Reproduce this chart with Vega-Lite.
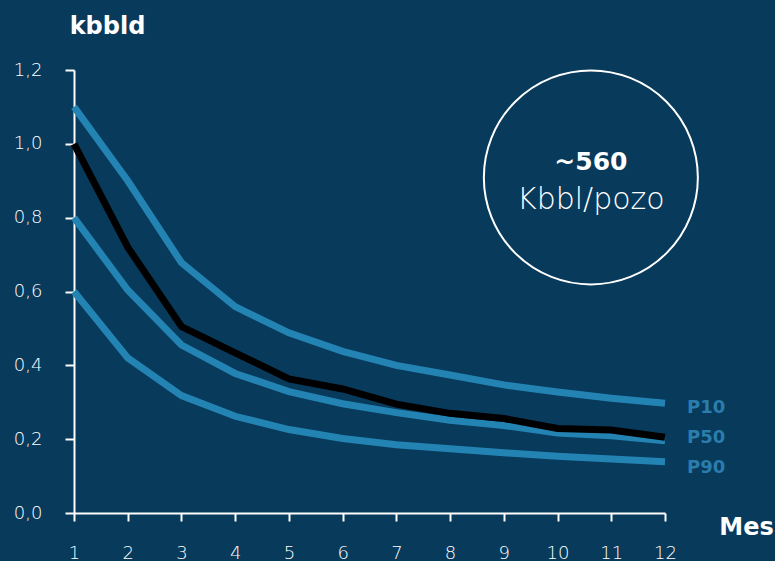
{
  "$schema": "https://vega.github.io/schema/vega-lite/v6.json",
  "width": 591,
  "height": 443,
  "autosize": "none",
  "padding": {"left": 74, "top": 70, "right": 110, "bottom": 48},
  "background": "#083A5C",
  "config": {
    "view": {"stroke": null},
    "font": "DejaVu Sans",
    "axis": {
      "domainColor": "#FFFFFF",
      "domainWidth": 2,
      "tickColor": "#FFFFFF",
      "tickWidth": 2,
      "labelColor": "#FFFFFF",
      "labelFont": "DejaVu Sans",
      "labelFontWeight": 200,
      "labelFontSize": 18,
      "grid": false,
      "titleColor": "#FFFFFF",
      "titleFont": "DejaVu Sans",
      "titleFontWeight": "bold",
      "titleFontSize": 24
    }
  },
  "datasets": {
    "curves": [
      {"month": 1, "series": "P10", "value": 1.1},
      {"month": 2, "series": "P10", "value": 0.9},
      {"month": 3, "series": "P10", "value": 0.678},
      {"month": 4, "series": "P10", "value": 0.559},
      {"month": 5, "series": "P10", "value": 0.488},
      {"month": 6, "series": "P10", "value": 0.438},
      {"month": 7, "series": "P10", "value": 0.4},
      {"month": 8, "series": "P10", "value": 0.374},
      {"month": 9, "series": "P10", "value": 0.347},
      {"month": 10, "series": "P10", "value": 0.328},
      {"month": 11, "series": "P10", "value": 0.311},
      {"month": 12, "series": "P10", "value": 0.297},
      {"month": 1, "series": "P50", "value": 0.8},
      {"month": 2, "series": "P50", "value": 0.604},
      {"month": 3, "series": "P50", "value": 0.455},
      {"month": 4, "series": "P50", "value": 0.378},
      {"month": 5, "series": "P50", "value": 0.329},
      {"month": 6, "series": "P50", "value": 0.296},
      {"month": 7, "series": "P50", "value": 0.272},
      {"month": 8, "series": "P50", "value": 0.251},
      {"month": 9, "series": "P50", "value": 0.237},
      {"month": 10, "series": "P50", "value": 0.217},
      {"month": 11, "series": "P50", "value": 0.209},
      {"month": 12, "series": "P50", "value": 0.196},
      {"month": 1, "series": "P90", "value": 0.6},
      {"month": 2, "series": "P90", "value": 0.42},
      {"month": 3, "series": "P90", "value": 0.318},
      {"month": 4, "series": "P90", "value": 0.262},
      {"month": 5, "series": "P90", "value": 0.226},
      {"month": 6, "series": "P90", "value": 0.202},
      {"month": 7, "series": "P90", "value": 0.185},
      {"month": 8, "series": "P90", "value": 0.174},
      {"month": 9, "series": "P90", "value": 0.163},
      {"month": 10, "series": "P90", "value": 0.154},
      {"month": 11, "series": "P90", "value": 0.146},
      {"month": 12, "series": "P90", "value": 0.139},
      {"month": 1, "series": "Real", "value": 1.0},
      {"month": 2, "series": "Real", "value": 0.72},
      {"month": 3, "series": "Real", "value": 0.505},
      {"month": 4, "series": "Real", "value": 0.434},
      {"month": 5, "series": "Real", "value": 0.363},
      {"month": 6, "series": "Real", "value": 0.336},
      {"month": 7, "series": "Real", "value": 0.295},
      {"month": 8, "series": "Real", "value": 0.27},
      {"month": 9, "series": "Real", "value": 0.256},
      {"month": 10, "series": "Real", "value": 0.229},
      {"month": 11, "series": "Real", "value": 0.225},
      {"month": 12, "series": "Real", "value": 0.205}
    ],
    "labels": [
      {"month": 12, "value": 0.284, "label": "P10"},
      {"month": 12, "value": 0.203, "label": "P50"},
      {"month": 12, "value": 0.122, "label": "P90"}
    ],
    "badge": [
      {"month": 10.62, "value": 0.909}
    ],
    "badgeText": [
      {"month": 10.62, "value": 0.951, "text": "~560", "weight": "bold"},
      {"month": 10.62, "value": 0.848, "text": "Kbbl/pozo", "weight": "light"}
    ]
  },
  "encoding": {
    "x": {
      "field": "month",
      "type": "quantitative",
      "scale": {"domain": [1, 12], "nice": false, "zero": false},
      "axis": {
        "values": [1, 2, 3, 4, 5, 6, 7, 8, 9, 10, 11, 12],
        "tickSize": 8,
        "labelPadding": 37,
        "labelBaseline": "alphabetic",
        "labelFlush": false,
        "title": "Mes",
        "titleX": 672,
        "titleY": 14,
        "titleAlign": "center",
        "titleBaseline": "middle"
      }
    },
    "y": {
      "field": "value",
      "type": "quantitative",
      "scale": {"domain": [0, 1.2], "nice": false},
      "axis": {
        "values": [0, 0.2, 0.4, 0.6, 0.8, 1.0, 1.2],
        "labelExpr": "replace(format(datum.value, '.1f'), '.', ',')",
        "tickSize": 9,
        "labelPadding": 23,
        "title": "kbbld",
        "titleAngle": 0,
        "titleX": 33,
        "titleY": -44,
        "titleAlign": "center",
        "titleBaseline": "middle"
      }
    }
  },
  "layer": [
    {
      "data": {"name": "curves"},
      "transform": [{"filter": "datum.series != 'Real'"}],
      "mark": {"type": "line", "color": "#2384B4", "strokeWidth": 7, "strokeCap": "butt", "strokeJoin": "miter"},
      "encoding": {"detail": {"field": "series"}}
    },
    {
      "data": {"name": "curves"},
      "transform": [{"filter": "datum.series == 'Real'"}],
      "mark": {"type": "line", "color": "#000000", "strokeWidth": 7, "strokeCap": "butt", "strokeJoin": "miter"},
      "encoding": {}
    },
    {
      "data": {"name": "labels"},
      "mark": {"type": "text", "align": "left", "baseline": "middle", "dx": 22, "fontSize": 18, "fontWeight": "bold", "color": "#2A7DAC"},
      "encoding": {"text": {"field": "label"}}
    },
    {
      "data": {"name": "badge"},
      "mark": {"type": "point", "shape": "circle", "size": 45800, "filled": false, "stroke": "#FFFFFF", "strokeWidth": 2, "opacity": 1},
      "encoding": {}
    },
    {
      "data": {"name": "badgeText"},
      "transform": [{"filter": "datum.weight == 'bold'"}],
      "mark": {"type": "text", "align": "center", "baseline": "middle", "fontSize": 25, "fontWeight": "bold", "color": "#FFFFFF"},
      "encoding": {"text": {"field": "text"}}
    },
    {
      "data": {"name": "badgeText"},
      "transform": [{"filter": "datum.weight == 'light'"}],
      "mark": {"type": "text", "align": "center", "baseline": "middle", "fontSize": 30, "fontWeight": 200, "color": "#FFFFFF"},
      "encoding": {"text": {"field": "text"}}
    }
  ]
}
